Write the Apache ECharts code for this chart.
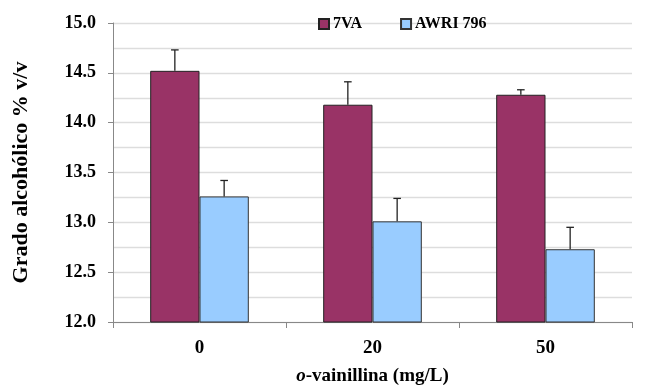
<!DOCTYPE html>
<html><head><meta charset="utf-8">
<script src="https://cdn.jsdelivr.net/npm/echarts@6/dist/echarts.min.js"></script>
<style>html,body{margin:0;padding:0;background:#fff}#c{width:647px;height:391px}</style>
</head><body><div id="c"></div>
<script>
const categories = ['0', '20', '50'];
const seriesNames = ['7VA', 'AWRI 796'];
const values7VA = [14.52, 14.18, 14.28];
const valuesAWRI = [13.26, 13.01, 12.73];
const err7VA = [0.21, 0.23, 0.05];
const errAWRI = [0.16, 0.23, 0.22];
const yTicks = [12.0, 12.5, 13.0, 13.5, 14.0, 14.5, 15.0];

const font = '"Liberation Serif", "Times New Roman", serif';
const chart = echarts.init(document.getElementById('c'));

function errSeries(vals, errs, idx) {
  return {
    type: 'custom',
    z: 10,
    silent: true,
    data: vals.map((v, i) => [i, v, v + errs[i]]),
    renderItem: function (params, api) {
      const c = api.value(0);
      const base = api.coord([c, api.value(1)]);
      const top = api.coord([c, api.value(2)]);
      const bw = api.size([1, 0])[0];
      const barW = bw * (1 - 0.43) / 2;
      const x = base[0] + (idx === 0 ? -barW / 2 : barW / 2);
      const style = { stroke: '#222', lineWidth: 1.3 };
      return {
        type: 'group',
        children: [
          { type: 'line', shape: { x1: x, y1: base[1], x2: x, y2: top[1] }, style: style },
          { type: 'line', shape: { x1: x - 3.8, y1: top[1], x2: x + 3.8, y2: top[1] }, style: style }
        ]
      };
    }
  };
}

chart.setOption({
  animation: false,
  grid: { left: 113, right: 15, top: 23, bottom: 68 },
  legend: {
    data: seriesNames,
    top: 11, left: 313,
    itemWidth: 10, itemHeight: 10, itemGap: 38,
    icon: 'rect',
    textStyle: { fontFamily: font, fontWeight: 'bold', fontSize: 16, color: '#000', padding: [0, 0, 0, -1] }
  },
  xAxis: {
    type: 'category',
    data: categories,
    axisLine: { lineStyle: { color: '#888' } },
    axisTick: { show: true, length: 6, lineStyle: { color: '#888' } },
    axisLabel: { fontFamily: font, fontWeight: 'bold', fontSize: 19, color: '#000', margin: 17 },
    name: '{i|o}{n|-vainillina (mg/L)}',
    nameLocation: 'middle',
    nameGap: 45,
    nameTextStyle: {
      rich: {
        i: { fontFamily: font, fontStyle: 'italic', fontWeight: 'bold', fontSize: 19, color: '#000' },
        n: { fontFamily: font, fontWeight: 'bold', fontSize: 19, color: '#000' }
      }
    }
  },
  yAxis: {
    type: 'value',
    min: 12, max: 15, interval: 0.5,
    axisLine: { show: true, lineStyle: { color: '#888' } },
    axisTick: { show: true, length: 5, lineStyle: { color: '#888' } },
    axisLabel: {
      fontFamily: font, fontWeight: 'bold', fontSize: 18, color: '#000', margin: 17,
      formatter: v => v.toFixed(1)
    },
    splitLine: { lineStyle: { color: '#ddd', width: 1.3 } },
    minorTick: { show: false, splitNumber: 2 },
    minorSplitLine: { show: true, lineStyle: { color: '#ddd', width: 1.3 } },
    name: 'Grado alcohólico % v/v',
    nameLocation: 'middle',
    nameGap: 81,
    nameTextStyle: { fontFamily: font, fontWeight: 'bold', fontSize: 22, color: '#000' }
  },
  series: [
    {
      name: seriesNames[0], type: 'bar', data: values7VA,
      barGap: '0%', barCategoryGap: '43%',
      itemStyle: { color: '#993366', borderColor: '#222', borderWidth: 1 }
    },
    {
      name: seriesNames[1], type: 'bar', data: valuesAWRI,
      itemStyle: { color: '#99CCFF', borderColor: '#333', borderWidth: 1 }
    },
    errSeries(values7VA, err7VA, 0),
    errSeries(valuesAWRI, errAWRI, 1)
  ]
});
</script></body></html>
